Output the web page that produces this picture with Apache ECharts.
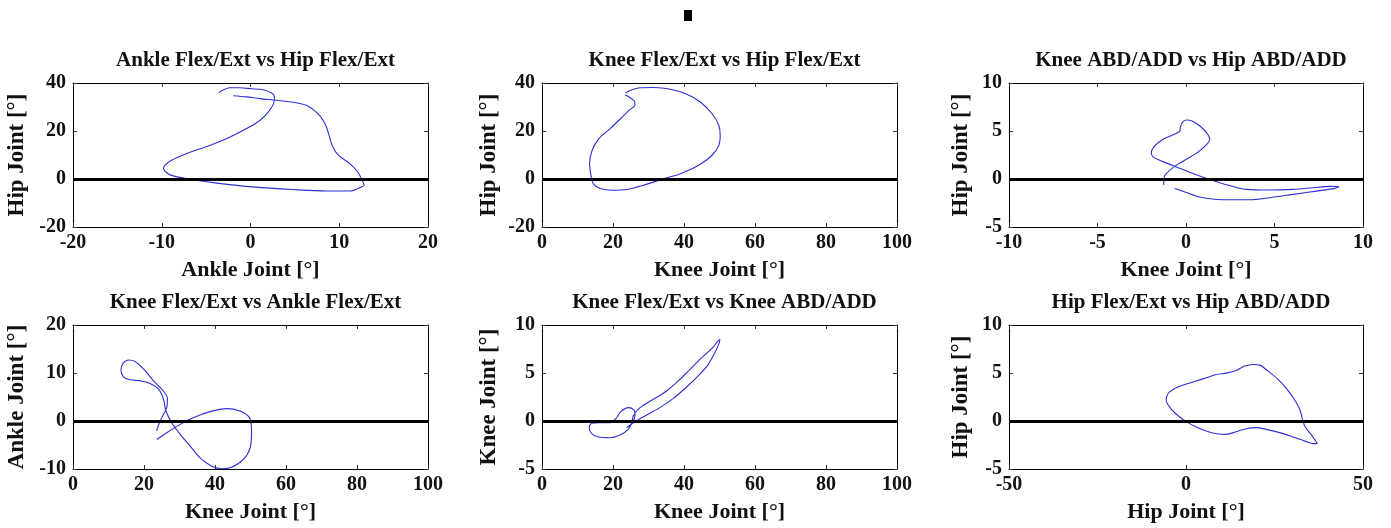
<!DOCTYPE html>
<html>
<head>
<meta charset="utf-8">
<script src="https://cdn.jsdelivr.net/npm/echarts@6/dist/echarts.min.js"></script>
<style>html,body{margin:0;padding:0;background:#fff;}#c{width:1391px;height:528px;}</style>
</head>
<body>
<div id="c"></div>
<script>
// Panel 1: Ankle Flex/Ext vs Hip Flex/Ext
const ankleHipX = [-3.6,-2.3,-1.2,0.1,1.4,2.4,2.7,2.6,2.0,1.05,-0.45,-2.3,-4.6,-7.2,-8.9,-9.8,-9.3,-8.5,-6.5,-3.8,0.3,4.8,8.6,11.2,12.5,12.8,12.5,12.1,11.2,9.9,9.2,8.8,8.4,7.6,6.3,4.8,2.9,1.05,-0.45,-1.95];
const ankleHipY = [36,38,38,37.6,37.2,35.8,34.2,31.4,27.9,24.4,21,17.5,14,10.6,7.8,4.6,2.2,1.1,-0.3,-1.7,-3.3,-4.4,-5,-5,-3.3,-2.6,0.1,2.9,6.4,9.9,14,18.9,23,27.2,30.7,32,32.8,33.5,34.2,34.7];
// Panel 2: Knee Flex/Ext vs Hip Flex/Ext
const kneeHipX = [23.5,25,27.7,31.5,36.2,40.8,44.6,47.9,49.8,50.2,49.8,47.9,44.1,39,34.3,28.6,23.9,19.7,16.4,14.4,13.8,13.4,14.1,16,19.2,22.1,24.5,26.2,26.0,24.5,23.4];
const kneeHipY = [35.8,37,38,38.1,37.4,35.3,32.1,27.2,22.4,18.2,14,9.9,5.7,2.2,0.1,-2.6,-4.4,-4.7,-4,-1.9,1.5,6.4,11.9,16.8,21,25.1,28.6,30.8,32.5,34.2,35.0];
// Panel 3: Knee ABD/ADD vs Hip ABD/ADD
const kneeAbdHipX = [-1.26,-1.21,-0.73,0.02,0.77,1.34,1.15,0.77,0.4,0.02,-0.21,-0.32,-0.36,-0.73,-1.3,-1.77,-1.96,-1.86,-1.3,-0.36,0.77,2.09,3.41,4.73,6.05,7.18,8.12,8.64,8.4,7.36,6.05,4.73,3.6,2.09,0.77,0.02,-0.64];
const kneeAbdHipY = [-0.63,0.31,1.19,2.06,2.93,4.15,4.85,5.55,6.0,6.14,5.89,5.37,4.95,4.6,4.15,3.45,2.76,2.3,1.81,1.12,0.31,-0.49,-1.08,-1.15,-1.08,-0.91,-0.77,-0.8,-0.98,-1.26,-1.6,-1.95,-2.16,-2.16,-1.88,-1.4,-0.98];
// Panel 4: Knee Flex/Ext vs Ankle Flex/Ext
const kneeAnkleX = [23.6,26.4,30.2,33.9,38.6,43.3,47.0,49.7,50.3,49.9,48.0,44.7,41.9,39.1,35.8,33.0,30.2,27.8,26.2,25.5,24.1,21.7,18.9,16.1,14.2,13.5,14.1,15.7,17.5,19.9,22.7,25.0,26.6,26.4,25.0,23.8,23.6];
const kneeAnkleY = [-3.84,-2.44,-0.7,0.7,1.95,2.58,2.09,0.7,-2.09,-5.58,-8.02,-9.63,-9.95,-9.42,-7.68,-5.23,-2.79,-0.35,2.09,4.54,6.63,7.82,8.37,8.58,9.21,10.6,12.0,12.7,12.4,10.8,8.37,6.63,4.75,2.79,0.7,-1.4,-2.09];
// Panel 5: Knee Flex/Ext vs Knee ABD/ADD
const kneeKneeX = [23.85,26.2,29.5,33.2,37.0,40.75,44.0,46.85,48.7,49.95,50.1,49.4,48.1,45.0,41.7,38.4,35.1,31.4,27.6,25.7,25.3,24.3,22.0,19.15,15.9,14.0,13.3,14.0,16.3,19.15,20.85,22.2,24.3,25.9,26.2,25.5,24.3];
const kneeKneeY = [-0.69,-0.07,0.625,1.39,2.36,3.54,4.69,5.9,7.12,8.16,8.5,8.26,7.64,6.6,5.38,4.17,3.13,2.26,1.39,0.52,-0.17,-0.87,-1.46,-1.74,-1.67,-1.32,-0.69,-0.24,-0.17,-0.17,0.28,0.97,1.39,1.15,0.625,-0.17,-0.625];
// Panel 6: Hip Flex/Ext vs Hip ABD/ADD
const hipHipX = [33.5,34.9,36.3,37.1,35.9,34.0,30.2,26.5,22.7,19.9,17.0,14.2,11.4,8.6,5.7,2.9,0.56,-1.8,-4.1,-5.6,-5.1,-3.2,-0.4,2.9,5.7,8.6,11.4,14.2,16.6,18.9,20.8,23.2,26.0,28.8,31.2,32.3,32.9,33.5];
const hipHipY = [-0.52,-1.21,-1.9,-2.36,-2.36,-2.15,-1.66,-1.21,-0.87,-0.69,-0.8,-1.11,-1.39,-1.32,-1.04,-0.62,-0.17,0.42,1.21,2.15,2.84,3.39,3.81,4.16,4.5,4.85,4.99,5.26,5.72,5.89,5.82,5.2,4.33,3.19,1.9,1.04,0.17,-0.52];

const titles = ['Ankle Flex/Ext vs Hip Flex/Ext','Knee Flex/Ext vs Hip Flex/Ext','Knee ABD/ADD vs Hip ABD/ADD',
                'Knee Flex/Ext vs Ankle Flex/Ext','Knee Flex/Ext vs Knee ABD/ADD','Hip Flex/Ext vs Hip ABD/ADD'];
const xNames = ['Ankle Joint [°]','Knee Joint [°]','Knee Joint [°]','Knee Joint [°]','Knee Joint [°]','Hip Joint [°]'];
const yNames = ['Hip Joint [°]','Hip Joint [°]','Hip Joint [°]','Ankle Joint [°]','Knee Joint [°]','Hip Joint [°]'];
const xRanges = [[-20,20,10],[0,100,20],[-10,10,5],[0,100,20],[0,100,20],[-50,50,50]];
const yRanges = [[-20,40,20],[-20,40,20],[-5,10,5],[-10,20,10],[-5,10,5],[-5,10,5]];
const xs = [ankleHipX,kneeHipX,kneeAbdHipX,kneeAnkleX,kneeKneeX,hipHipX];
const ys = [ankleHipY,kneeHipY,kneeAbdHipY,kneeAnkleY,kneeKneeY,hipHipY];

const FONT = 'Liberation Serif';
const lefts = [73,542,1009];
const widths = [355,355,354];
const tops = [83,325];
const H = 144;
const yNameGaps = [44,41,36];

const grids=[], xAxes=[], yAxes=[], series=[], titleArr=[];
for (let i=0;i<6;i++){
  const col=i%3,row=Math.floor(i/3);
  grids.push({left:lefts[col],top:tops[row],width:widths[col],height:H,containLabel:false});
  const xr=xRanges[i], yr=yRanges[i];
  const lab={fontFamily:FONT,fontWeight:'bold',fontSize:20,color:'#111'};
  const axLine={show:true,onZero:false,lineStyle:{color:'#000',width:1}};
  const tick={show:true,inside:true,length:4,lineStyle:{color:'#333',width:1}};
  xAxes.push({type:'value',gridIndex:i,position:'bottom',min:xr[0],max:xr[1],interval:xr[2],
    axisLine:axLine,axisTick:tick,splitLine:{show:false},
    axisLabel:Object.assign({margin:6},lab),
    name:xNames[i],nameLocation:'middle',nameGap:32,nameTextStyle:Object.assign({},lab,{fontSize:22})});
  xAxes.push({type:'value',gridIndex:i,position:'top',min:xr[0],max:xr[1],interval:xr[2],
    axisLine:axLine,axisTick:tick,splitLine:{show:false},axisLabel:{show:false}});
  yAxes.push({type:'value',gridIndex:i,position:'left',min:yr[0],max:yr[1],interval:yr[2],
    axisLine:axLine,axisTick:tick,splitLine:{show:false},
    axisLabel:Object.assign({margin:7},lab),
    name:yNames[i],nameLocation:'middle',nameGap:yNameGaps[col],nameRotate:90,nameTextStyle:Object.assign({},lab,{fontSize:23})});
  yAxes.push({type:'value',gridIndex:i,position:'right',min:yr[0],max:yr[1],interval:yr[2],
    axisLine:axLine,axisTick:tick,splitLine:{show:false},axisLabel:{show:false}});
  const data = xs[i].map((v,k)=>[v,ys[i][k]]);
  series.push({type:'line',xAxisIndex:2*i,yAxisIndex:2*i,data:data,showSymbol:false,smooth:0.3,
    lineStyle:{color:'#2f2fd2',width:1.1},silent:true,
    markLine:{silent:true,symbol:'none',label:{show:false},animation:false,
      lineStyle:{color:'#000',width:3,type:'solid'},data:[{yAxis:0}]}});
  titleArr.push({text:titles[i],left:lefts[col]+widths[col]/2,top:(row===0?45:287),textAlign:'center',
    textStyle:{fontFamily:FONT,fontWeight:'bold',fontSize:21,color:'#111'}});
}

const chart = echarts.init(document.getElementById('c'),null,{renderer:'canvas'});
chart.setOption({
  animation:false,
  backgroundColor:'#ffffff',
  title:titleArr,
  grid:grids,
  xAxis:xAxes,
  yAxis:yAxes,
  series:series,
  graphic:[{type:'rect',left:684,top:10,shape:{width:8,height:11},style:{fill:'#000'}}]
});
</script>
</body>
</html>
